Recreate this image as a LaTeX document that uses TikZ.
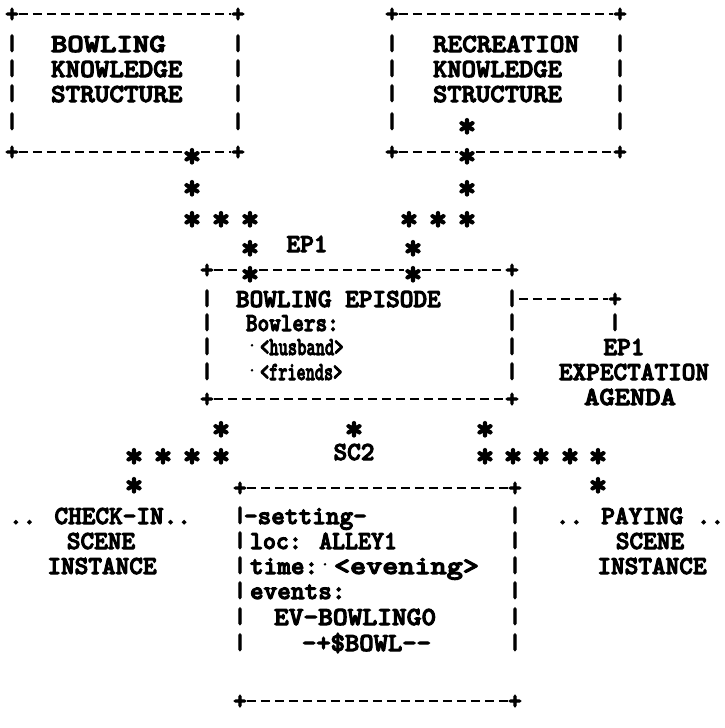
\documentclass[tikz,border=0pt]{standalone}
\usepackage{fontspec}
\newfontfamily\tw{lmmonolt10-bold}[Extension=.otf, FakeBold=4]
\newcommand{\sx}[2]{\scalebox{#1}[1]{#2}}
\newcommand{\stx}{\raisebox{-7pt}{\scalebox{1.35}{*}}}
\newcommand{\vbx}{\raisebox{2pt}{\scalebox{1}[0.85]{|}}}
\begin{document}
\begin{tikzpicture}[x=1pt,y=-1pt,
  tt/.style={font=\tw\fontsize{26}{30}\selectfont, inner sep=0pt, outer sep=0pt, text height=16pt, text depth=0pt},
  txw/.style={tt, anchor=west},
  txc/.style={tt, anchor=center},
  pl/.style={tt, anchor=center},
  ast/.style={tt, anchor=center},
  vb/.style={tt, anchor=center},
  dt/.style={font=\tw\fontsize{14}{16}\selectfont, inner sep=0pt, anchor=center},
  db/.style={line width=2.8pt, dash pattern=on 9pt off 5pt}]
\useasboundingbox (0,0) rectangle (725,728);

% ---------- top-left box ----------
\node[pl] (lt1) at (12,14) {+};
\node[pl] (lt2) at (238,14) {+};
\node[pl] (lb1) at (12,152) {+};
\node[pl] (lb2) at (238,152) {+};
\node[ast] (lbs) at (192,152) {\stx};
\foreach \y [count=\i] in {44,69,94,122} {
  \node[vb] (ll\i) at (12,\y) {\vbx};
  \node[vb] (lr\i) at (238,\y) {\vbx};
}
\draw[db] (lt1) -- (lt2);
\draw[db] (lb1) -- (lbs) -- (lb2);
\node[txw] (bowl) at (51,44) {\sx{1.2}{BOWLING}};
\node[txw] (know1) at (51,69) {\sx{1.07}{KNOWLEDGE}};
\node[txw] (stru1) at (51,94) {\sx{1.07}{STRUCTURE}};

% ---------- top-right box ----------
\node[pl] (rt1) at (392,14) {+};
\node[pl] (rt2) at (620,14) {+};
\node[pl] (rb1) at (392,152) {+};
\node[pl] (rb2) at (620,152) {+};
\node[ast] (rbs) at (467,152) {\stx};
\foreach \y [count=\i] in {44,69,94,122} {
  \node[vb] (rl\i) at (392,\y) {\vbx};
  \node[vb] (rr\i) at (620,\y) {\vbx};
}
\draw[db] (rt1) -- (rt2);
\draw[db] (rb1) -- (rbs) -- (rb2);
\node[txw] (recr) at (433,44) {\sx{1.07}{RECREATION}};
\node[txw] (know2) at (433,69) {\sx{1.05}{KNOWLEDGE}};
\node[txw] (stru2) at (433,94) {\sx{1.05}{STRUCTURE}};
\node[ast] (ris) at (467,122) {\stx};

% ---------- chains to EP1 ----------
\node[ast] (c1) at (192,184) {\stx};
\node[ast] (c2) at (192,215) {\stx};
\node[ast] (c3) at (221,215) {\stx};
\node[ast] (c4) at (250,215) {\stx};
\node[ast] (c5) at (250,244) {\stx};
\node[ast] (d1) at (467,184) {\stx};
\node[ast] (d2) at (409,215) {\stx};
\node[ast] (d3) at (438,215) {\stx};
\node[ast] (d4) at (467,215) {\stx};
\node[ast] (d5) at (413,244) {\stx};
\node[txc] (ep1) at (307,244) {EP1};

% ---------- EP box ----------
\node[pl] (et1) at (207,270) {+};
\node[ast] (ets1) at (250,270) {\stx};
\node[ast] (ets2) at (413,270) {\stx};
\node[pl] (et2) at (512,270) {+};
\node[pl] (eb1) at (207,399) {+};
\node[pl] (eb2) at (512,399) {+};
\foreach \y [count=\i] in {299,323,347,372} {
  \node[vb] (el\i) at (207,\y) {\vbx};
  \node[vb] (er\i) at (512,\y) {\vbx};
}
\draw[db] (et1) -- (ets1) -- (ets2) -- (et2);
\draw[db] (eb1) -- (eb2);
\node[txw] (bep) at (236,299) {BOWLING EPISODE};
\node[txw] (bwl) at (246,323) {\sx{0.85}{Bowlers:}};
\node[dt] (dot1) at (252,347) {·};
\node[txw] (hus) at (260,347) {\sx{0.68}{<husband>}};
\node[dt] (dot2) at (252,372) {·};
\node[txw] (fri) at (260,372) {\sx{0.67}{<friends>}};

% ---------- expectation agenda ----------
\node[pl] (cp) at (615,299) {+};
\node[vb] (cv) at (615,323) {\vbx};
\draw[db] (er1) -- (cp);
\node[txc] (ep1r) at (624,347) {EP1};
\node[txc] (expc) at (634,372) {EXPECTATION};
\node[txc] (agen) at (630,397) {\sx{1.12}{AGENDA}};

% ---------- chains to scenes ----------
\node[ast] (f1) at (221,425) {\stx};
\node[ast] (f2) at (354,425) {\stx};
\node[ast] (f3) at (485,425) {\stx};
\node[ast] (g1) at (134,452) {\stx};
\node[ast] (g2) at (163,452) {\stx};
\node[ast] (g3) at (192,452) {\stx};
\node[ast] (g4) at (221,452) {\stx};
\node[txc] (sc2) at (354,452) {SC2};
\node[ast] (h1) at (485,452) {\stx};
\node[ast] (h2) at (513,452) {\stx};
\node[ast] (h3) at (541,452) {\stx};
\node[ast] (h4) at (570,452) {\stx};
\node[ast] (h5) at (598,452) {\stx};
\node[ast] (g5) at (134,481) {\stx};
\node[ast] (h6) at (598,481) {\stx};

% ---------- SC2 box ----------
\node[pl] (st1) at (240,488) {+};
\node[pl] (st2) at (515,488) {+};
\node[pl] (sb1) at (240,701) {+};
\node[pl] (sb2) at (515,701) {+};
\foreach \y [count=\i] in {516,541,566,591,617,643} {
  \node[vb] (sl\i) at (240,\y) {\vbx};
  \node[vb] (sr\i) at (515,\y) {\vbx};
}
\draw[db] (st1) -- (st2);
\draw[db] (sb1) -- (sb2);
\node[txw] (sett) at (244,516) {-setting-};
\node[txw] (loc) at (250,541) {\sx{0.95}{loc: ALLEY1}};
\node[txw] (time) at (250,566) {time:};
\node[dt] (dot3) at (325,566) {·};
\node[txw] (even) at (334,566) {\sx{1.18}{<evening>}};
\node[txw] (evts) at (250,591) {events:};
\node[txw] (evb) at (274,617) {\sx{1.08}{EV-BOWLING0}};
\node[txw] (sbowl) at (302,643) {\sx{1.05}{-+\$BOWL-{}-}};

% ---------- side scenes ----------
\node[txc] (chk) at (100,516) {.. CHECK-IN..};
\node[txc] (scl) at (101,541) {SCENE};
\node[txc] (inl) at (102,566) {INSTANCE};
\node[txc] (pay) at (640,516) {.. PAYING ..};
\node[txc] (scr) at (650,541) {SCENE};
\node[txc] (inr) at (652,566) {INSTANCE};
\end{tikzpicture}
\end{document}
